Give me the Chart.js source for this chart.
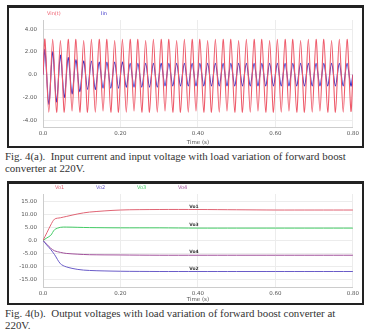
<!DOCTYPE html>
<html>
<head>
<meta charset="utf-8">
<script src="https://cdn.jsdelivr.net/npm/chart.js@4.4.0/dist/chart.umd.min.js"></script>
<style>
  body { margin: 0; background: #fff; width: 369px; height: 335px; position: relative; overflow: hidden; font-family: "Liberation Serif", serif; }
  .frame { position: absolute; left: 7px; width: 353px; border: 2px solid #222; border-top-width: 3px; background: #fff; }
  #f1 { top: 5px; height: 138px; }
  #f2 { top: 181px; height: 119px; }
  .frame canvas { display: block; }
  .cap { position: absolute; left: 5px; width: 364px; font-size: 10.9px; line-height: 12px; color: #333; white-space: normal; }
  #capb { width: 352px; }
</style>
</head>
<body>
<div class="frame" id="f1"><canvas id="c1" width="353" height="138"></canvas></div>
<div class="cap" style="top:150px">Fig. 4(a).&nbsp; Input current and input voltage with load variation of forward boost converter at 220V.</div>
<div class="frame" id="f2"><canvas id="c2" width="353" height="119"></canvas></div>
<div class="cap" id="capb" style="top:307px">Fig. 4(b).&nbsp; Output voltages with load variation of forward boost converter at 220V.</div>
<script>
// Fig 4(a): peaks / troughs of each half cycle (50 Hz, 0.01 s apart)
const halfStep = 0.01;
const vinPeaks = [
  3.1, -3.3, 3.1, -3.3, 3.0, -3.3, 3.1, -3.2, 3.1, -3.3, 3.0, -3.3, 3.1, -3.3, 3.1, -3.2,
  3.1, -3.3, 3.0, -3.3, 3.1, -3.3, 3.1, -3.2, 3.1, -3.3, 3.0, -3.3, 3.1, -3.3, 3.1, -3.2,
  3.1, -3.3, 3.0, -3.3, 3.1, -3.3, 3.1, -3.2, 3.1, -3.3, 3.0, -3.3, 3.1, -3.3, 3.1, -3.2,
  3.1, -3.3, 3.0, -3.3, 3.1, -3.3, 3.1, -3.2, 3.1, -3.3, 3.0, -3.3, 3.1, -3.3, 3.1, -3.2,
  3.1, -3.3, 3.0, -3.3, 3.1, -3.3, 3.1, -3.2, 3.1, -3.3, 3.0, -3.3, 3.1, -3.3, 3.1, -3.2
];
const iinPeaks = [
  2.2, -2.6, 2.0, -2.4, 1.7, -2.0, 1.5, -1.7, 1.3, -1.5, 1.2, -1.3, 1.2, -1.3, 1.1, -1.2,
  1.1, -1.2, 1.1, -1.2, 1.1, -1.1, 1.0, -1.1, 1.0, -1.1, 1.0, -1.1, 1.0, -1.1, 1.0, -1.0,
  1.0, -1.0, 1.0, -1.0, 1.0, -1.0, 1.0, -1.0, 1.0, -1.0, 1.0, -1.0, 1.0, -1.0, 1.0, -1.0,
  1.0, -1.0, 1.0, -1.0, 1.0, -1.0, 1.0, -1.0, 1.0, -1.0, 1.0, -1.0, 1.0, -1.0, 1.0, -1.0,
  1.0, -1.0, 1.0, -1.0, 1.0, -1.0, 1.0, -1.0, 1.0, -1.0, 1.0, -1.0, 1.0, -1.0, 1.0, -1.0
];
const topNames = ["Vin(t)", "Iin"];
const topTicks = [-4, -2, 0, 2, 4];

// Fig 4(b): output voltages
const tOut = [0, 0.01, 0.02, 0.03, 0.045, 0.06, 0.09, 0.12, 0.2, 0.3, 0.4, 0.5, 0.6, 0.7, 0.8];
const vo1 = [0, 3, 6, 8.3, 8.8, 9.3, 10.3, 11.0, 11.8, 12.0, 12.0, 11.9, 11.8, 11.8, 11.8];
const vo2 = [0, -1.8, -3.5, -5.5, -9.0, -10.2, -11.2, -11.6, -11.9, -12.0, -12.0, -12.0, -12.0, -12.0, -12.0];
const vo3 = [0, 1, 2, 4.2, 5.1, 5.2, 5.1, 5.0, 4.9, 4.9, 4.8, 4.8, 4.8, 4.8, 4.8];
const vo4 = [0, -1.5, -3, -4, -4.6, -5.0, -5.3, -5.5, -5.6, -5.7, -5.7, -5.7, -5.7, -5.7, -5.7];
const botNames = ["Vo1", "Vo2", "Vo3", "Vo4"];
const botTicks = [-15, -10, -5, 0, 5, 10, 15];
const xTicks = [0, 0.2, 0.4, 0.6, 0.8];

const toPoints = (peaks) => {
  const pts = [{ x: 0, y: 0 }];
  peaks.forEach((v, i) => pts.push({ x: halfStep / 2 + i * halfStep, y: v }));
  pts.push({ x: 0.8, y: 0 });
  return pts;
};

const tickFont = { family: "DejaVu Sans", size: 5.5 };

// colored text legend drawn at the top of the plot
const textLegend = {
  id: "textLegend",
  afterDraw(chart, args, opts) {
    const ctx = chart.ctx;
    ctx.save();
    ctx.font = "5px DejaVu Sans";
    ctx.textBaseline = "middle";
    chart.data.datasets.forEach((ds, i) => {
      ctx.fillStyle = ds.borderColor;
      ctx.fillText(ds.label, chart.chartArea.left + opts.x0 + i * opts.gap, opts.y);
    });
    ctx.restore();
  }
};

// small curve tags at t = 0.39
const curveTags = {
  id: "curveTags",
  afterDatasetsDraw(chart, args, opts) {
    if (!opts.on) return;
    const ctx = chart.ctx;
    const xs = chart.scales.x, ys = chart.scales.y;
    ctx.save();
    ctx.font = "bold 4.5px DejaVu Sans";
    ctx.fillStyle = "#333";
    ctx.textAlign = "center";
    chart.data.datasets.forEach((ds) => {
      const p = ds.data[10];
      ctx.fillText(ds.label, xs.getPixelForValue(p.x) - 4, ys.getPixelForValue(p.y) - 2);
    });
    ctx.restore();
  }
};

const makeScales = (ymin, ymax, yTicks, xh) => ({
  x: {
    type: "linear", min: 0, max: 0.8,
    afterBuildTicks: (s) => { s.ticks = xTicks.map((v) => ({ value: v })); },
    afterFit: (s) => { s.height = xh; },
    ticks: { font: tickFont, color: "#555", padding: 3, maxRotation: 0,
      callback: (v) => (v === 0 ? "0.0" : v.toFixed(2)) },
    grid: { color: "#ececec", drawTicks: false },
    border: { color: "#ccc" },
    title: { display: true, text: "Time (s)", font: tickFont, color: "#555", padding: 0 }
  },
  y: {
    min: ymin, max: ymax,
    afterBuildTicks: (s) => { s.ticks = yTicks.map((v) => ({ value: v })); },
    afterFit: (s) => { s.width = 34; },
    ticks: { font: tickFont, color: "#555", padding: 6,
      callback: (v) => (v === 0 ? "0.0" : v.toFixed(2)) },
    grid: { color: "#ececec", drawTicks: false },
    border: { color: "#ccc" }
  }
});

new Chart(document.getElementById("c1"), {
  type: "line",
  data: {
    datasets: [
      { label: topNames[0], data: toPoints(vinPeaks), borderColor: "#ee5a6a", borderWidth: 1.1 },
      { label: topNames[1], data: toPoints(iinPeaks), borderColor: "#3a32c8", borderWidth: 1.1 }
    ]
  },
  options: {
    responsive: false, animation: false, devicePixelRatio: 1,
    elements: { point: { radius: 0 }, line: { tension: 0.3 } },
    layout: { autoPadding: false, padding: { top: 12, right: 3, left: 0, bottom: 0 } },
    plugins: { legend: { display: false }, tooltip: { enabled: false },
      textLegend: { x0: 4, gap: 54, y: 6 }, curveTags: { on: false } },
    scales: makeScales(-4.6, 4.8, topTicks, 19)
  },
  plugins: [textLegend, curveTags]
});

const xy = (ys) => ys.map((v, i) => ({ x: tOut[i], y: v }));

new Chart(document.getElementById("c2"), {
  type: "line",
  data: {
    datasets: [
      { label: botNames[0], data: xy(vo1), borderColor: "#e06474", borderWidth: 1 },
      { label: botNames[1], data: xy(vo2), borderColor: "#6a5cc8", borderWidth: 1 },
      { label: botNames[2], data: xy(vo3), borderColor: "#44cc66", borderWidth: 1 },
      { label: botNames[3], data: xy(vo4), borderColor: "#a0509a", borderWidth: 1 }
    ]
  },
  options: {
    responsive: false, animation: false, devicePixelRatio: 1,
    elements: { point: { radius: 0 }, line: { tension: 0.3 } },
    layout: { autoPadding: false, padding: { top: 10, right: 3, left: 0, bottom: 0 } },
    plugins: { legend: { display: false }, tooltip: { enabled: false },
      textLegend: { x0: 12, gap: 41, y: 4 }, curveTags: { on: true } },
    scales: makeScales(-18, 18, botTicks, 16)
  },
  plugins: [textLegend, curveTags]
});
</script>
</body>
</html>
